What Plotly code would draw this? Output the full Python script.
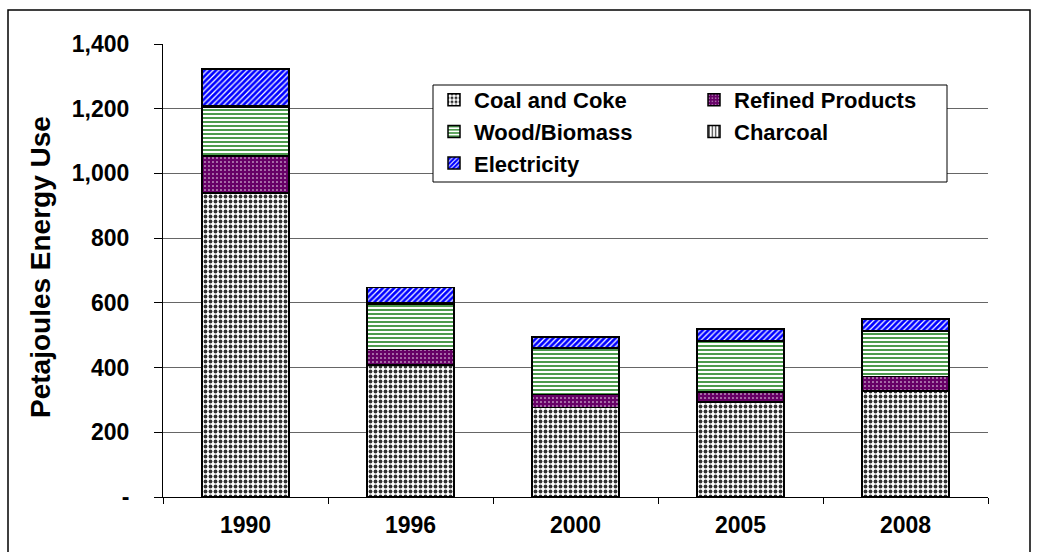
import plotly.graph_objects as go

years = ["1990", "1996", "2000", "2005", "2008"]
coal = [940, 408, 277, 293, 328]
refined = [114, 48, 40, 32, 44]
wood = [150, 140, 142, 156, 139]
charcoal = [4, 3, 2, 2, 2]
electricity = [115, 49, 33, 36, 37]

y_tickvals = [0, 200, 400, 600, 800, 1000, 1200, 1400]
y_ticktext = ["-", "200", "400", "600", "800", "1,000", "1,200", "1,400"]

FONT = "Liberation Sans, Arial, sans-serif"

# plot area in pixels
L, R, T, B = 163, 49, 44, 55
W, H = 1037, 552
PW = W - L - R
PH = H - T - B


def px_x(p):
    return (p - L) / PW


def px_y(p):
    return (H - B - p) / PH


series = [
    ("Coal and Coke", coal, dict(shape=".", fgcolor="#333333", bgcolor="white", size=5, solidity=0.45), "legend"),
    ("Refined Products", refined, dict(shape=".", fgcolor="white", bgcolor="#660066", size=4, solidity=0.12), "legend2"),
    ("Wood/Biomass", wood, dict(shape="-", fgcolor="#007000", bgcolor="white", size=4, solidity=0.35), "legend"),
    ("Charcoal", charcoal, dict(shape="|", fgcolor="black", bgcolor="white", size=4, solidity=0.3), "legend2"),
    ("Electricity", electricity, dict(shape="/", fgcolor="#0000FF", bgcolor="white", size=4, solidity=0.7), "legend"),
]

fig = go.Figure()
for name, vals, pat, lg in series:
    fig.add_trace(go.Bar(
        x=years, y=vals, name=name, legend=lg,
        marker=dict(color=pat["bgcolor"], pattern=dict(fillmode="replace", **pat),
                    line=dict(color="black", width=1.5)),
    ))

legend_common = dict(
    bgcolor="rgba(0,0,0,0)", borderwidth=0, traceorder="normal",
    font=dict(family=FONT, size=22, color="black", weight="bold"),
    yanchor="top", xanchor="left", orientation="v",
)

fig.update_layout(
    width=W, height=H,
    margin=dict(l=L, r=R, t=T, b=B, autoexpand=False),
    barmode="stack", bargap=0.473,
    plot_bgcolor="white", paper_bgcolor="white",
    font=dict(family=FONT, color="black"),
    legend=dict(x=px_x(434), y=px_y(79), **legend_common),
    legend2=dict(x=px_x(694), y=px_y(79), **legend_common),
    xaxis=dict(
        type="category", showline=True, linecolor="black", linewidth=1,
        ticks="outside", tickson="boundaries", ticklen=6, tickcolor="black",
        tickfont=dict(family=FONT, size=23, color="black", weight="bold"),
        ticklabelstandoff=7, showgrid=False,
    ),
    yaxis=dict(
        range=[0, 1400], tickvals=y_tickvals, ticktext=y_ticktext,
        showline=True, linecolor="black", linewidth=1,
        ticks="outside", ticklen=8, tickcolor="black",
        showgrid=True, gridcolor="#666666", gridwidth=1, zeroline=False,
        tickfont=dict(family=FONT, size=23, color="black", weight="bold"),
        ticklabelstandoff=20,
    ),
    shapes=[
        # outer chart border
        dict(type="rect", xref="paper", yref="paper",
             x0=px_x(8), x1=px_x(1030), y0=px_y(570), y1=px_y(10),
             line=dict(color="black", width=1.5), fillcolor="rgba(0,0,0,0)", layer="above"),
        # legend box
        dict(type="rect", xref="paper", yref="paper",
             x0=px_x(433), x1=px_x(947), y0=px_y(182), y1=px_y(85),
             line=dict(color="black", width=1), fillcolor="white", layer="above"),
    ],
    annotations=[
        dict(text="Petajoules Energy Use", xref="paper", yref="paper",
             x=px_x(40), y=px_y(267), textangle=-90, showarrow=False,
             font=dict(family=FONT, size=28, color="black", weight="bold"),
             xanchor="center", yanchor="middle"),
    ],
)

fig.write_html(
    "out.html",
    config={"displayModeBar": False},
    post_script="document.body.style.margin='0';document.body.style.overflow='hidden';",
)
